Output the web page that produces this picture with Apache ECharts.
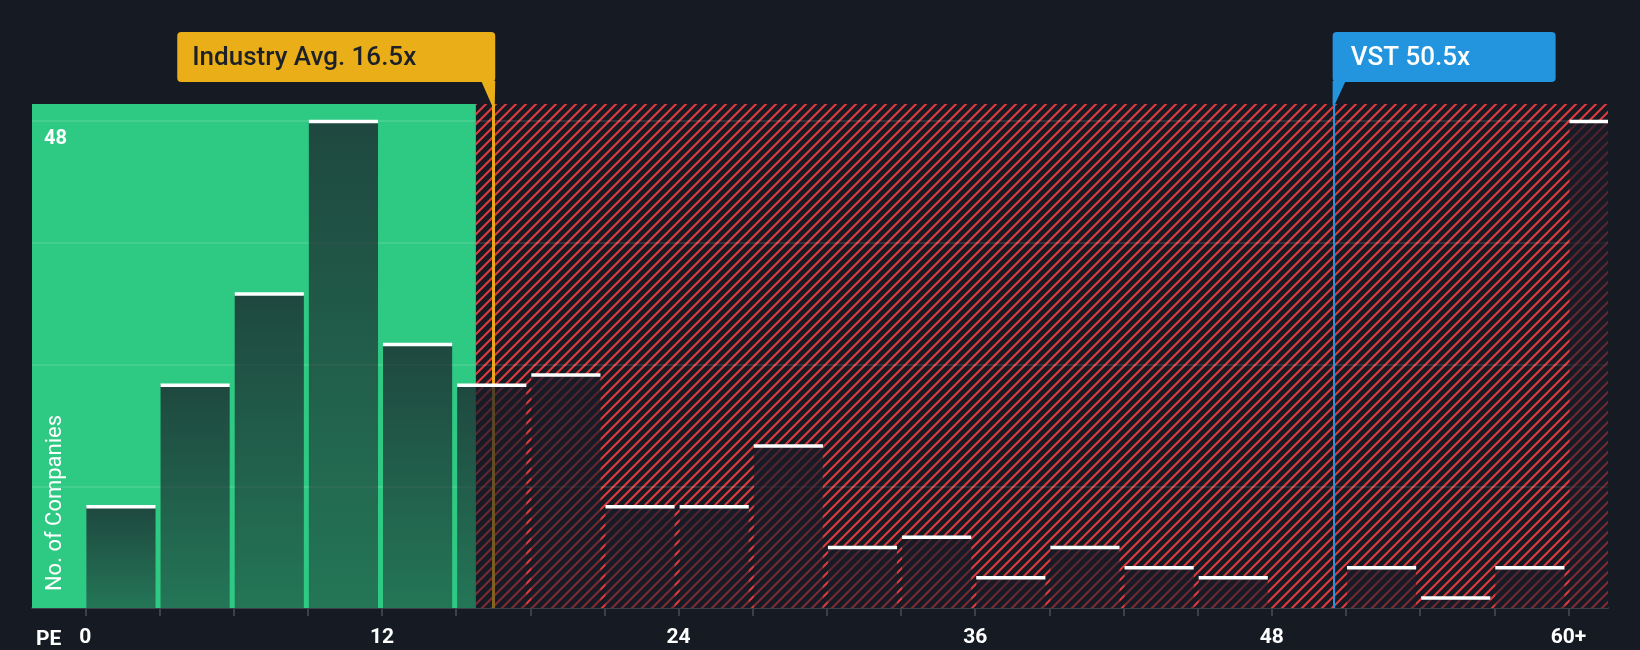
<!DOCTYPE html>
<html>
<head>
<meta charset="utf-8">
<script src="https://cdn.jsdelivr.net/npm/echarts@6/dist/echarts.min.js"></script>
<style>
html,body{margin:0;padding:0;background:#151a23;}
#c{width:1640px;height:650px;}
</style>
</head>
<body>
<div id="c"></div>
<script>
// ---- data ----
const binStarts = [0, 3, 6, 9, 12, 15, 18, 21, 24, 27, 30, 33, 36, 39, 42, 45, 48, 51, 54, 57, 60];
const binEnds   = [3, 6, 9, 12, 15, 18, 21, 24, 27, 30, 33, 36, 39, 42, 45, 48, 51, 54, 57, 60, 63];
const companyCounts = [10, 22, 31, 48, 26, 22, 23, 10, 10, 16, 6, 7, 3, 6, 4, 3, 0, 4, 1, 4, 48];
const xTickValues = [0, 3, 6, 9, 12, 15, 18, 21, 24, 27, 30, 33, 36, 39, 42, 45, 48, 51, 54, 57, 60];
const xLabelValues = [0, 12, 24, 36, 48, 60];
const xLabelTexts = ['0', '12', '24', '36', '48', '60+'];
const yGridValues = [12, 24, 36, 48];
const yLabelValues = [48];
const industryAvgPE = 16.5;
const industryLabel = 'Industry Avg. 16.5x';
const companyPE = 50.5;
const companyLabel = 'VST 50.5x';
const fairZoneEnd = 15.8;
const xMin = -2.16, xMax = 61.6, yMin = 0, yMax = 49.7;

// ---- styles ----
const BG = '#151a23';
const GREEN = '#2ec983';
const RED = '#e03a3e';
const AXIS = '#3c4149';

function hatchCanvas() {
  const s = 10;
  const c = document.createElement('canvas');
  c.width = s; c.height = s;
  const g = c.getContext('2d');
  g.fillStyle = BG; g.fillRect(0, 0, s, s);
  g.strokeStyle = RED; g.lineWidth = 2.1;
  g.beginPath();
  g.moveTo(-s, s); g.lineTo(s, -s);
  g.moveTo(-s, 2 * s); g.lineTo(2 * s, -s);
  g.moveTo(0, 2 * s); g.lineTo(2 * s, 0);
  g.stroke();
  return c;
}

const chart = echarts.init(document.getElementById('c'), null, {renderer: 'canvas'});

const barGradient = new echarts.graphic.LinearGradient(0, 0, 0, 1, [
  {offset: 0, color: 'rgba(25,27,39,0.74)'},
  {offset: 1, color: 'rgba(25,27,39,0.48)'}
]);

const option = {
  backgroundColor: BG,
  animation: false,
  grid: {left: 32, right: 32, top: 104, bottom: 42},
  xAxis: {
    type: 'value', min: xMin, max: xMax,
    splitLine: {show: false},
    axisLine: {show: true, onZero: false, lineStyle: {color: AXIS, width: 2}},
    axisTick: {show: true, customValues: xTickValues, length: 8, lineStyle: {color: AXIS, width: 2}},
    axisLabel: {
      customValues: xLabelValues,
      formatter: v => xLabelTexts[xLabelValues.indexOf(v)],
      color: '#ffffff', fontSize: 21, fontWeight: 'bold', fontFamily: 'Roboto', margin: 19
    }
  },
  yAxis: {
    type: 'value', min: yMin, max: yMax,
    splitLine: {show: false}, axisLine: {show: false}, axisTick: {show: false},
    axisLabel: {show: false}
  },
  series: [{
    type: 'custom',
    z: 3,
    clip: true,
    data: binStarts.map((s, i) => [s, binEnds[i], companyCounts[i]]),
    encode: {x: [0, 1], y: 2},
    renderItem: function (params, api) {
      const v = api.value(2);
      if (!v) return null;
      const a = api.coord([api.value(0), v]);
      const b = api.coord([api.value(1), 0]);
      const x = a[0] + 1, w = b[0] - a[0] - 5;
      const y = a[1], h = b[1] - a[1];
      return {
        type: 'group',
        children: [
          {type: 'rect', shape: {x: x, y: y, width: w, height: h}, style: {fill: barGradient}},
          {type: 'rect', shape: {x: x, y: y - 1.5, width: w, height: 3.5}, style: {fill: '#ffffff'}}
        ]
      };
    },
    markArea: {
      silent: true,
      z: 1,
      data: [
        [{xAxis: xMin, itemStyle: {color: GREEN}}, {xAxis: fairZoneEnd}],
        [{xAxis: fairZoneEnd, itemStyle: {color: {image: hatchCanvas(), repeat: 'repeat'}}}, {xAxis: xMax}]
      ]
    },
    markLine: {
      silent: true,
      z: 2,
      symbol: 'none',
      label: {show: false},
      emphasis: {disabled: true},
      data: yGridValues.map(v => ({yAxis: v, lineStyle: {color: 'rgba(255,255,255,0.11)', width: 2, type: 'solid'}}))
        .concat([
          {xAxis: industryAvgPE, lineStyle: {color: '#eaa71c', width: 3, type: 'solid'}},
          {xAxis: companyPE, lineStyle: {color: '#2394de', width: 2, type: 'solid'}}
        ])
    }
  }]
};

chart.setOption(option);

const avgX = chart.convertToPixel({xAxisIndex: 0}, industryAvgPE);
const vstX = chart.convertToPixel({xAxisIndex: 0}, companyPE);
const plotTop = chart.convertToPixel({yAxisIndex: 0}, yMax);
const plotLeft = chart.convertToPixel({xAxisIndex: 0}, xMin);
const boxTop = 32, boxH = 50, boxBottom = boxTop + boxH;
const avgBoxW = 318, vstBoxW = 223;

const yLabelGraphics = yLabelValues.map(v => ({
  type: 'text', z: 21, x: plotLeft + 12, y: chart.convertToPixel({yAxisIndex: 0}, v) + 18,
  style: {text: String(v), fill: '#ffffff', font: 'bold 20px Roboto', verticalAlign: 'middle', align: 'left'}
}));

chart.setOption({
  graphic: [
    {type: 'rect', z: 20, shape: {x: avgX + 2 - avgBoxW, y: boxTop, width: avgBoxW, height: boxH, r: 4}, style: {fill: '#e9ae18'}},
    {type: 'polygon', z: 20, shape: {points: [[avgX - 12, boxBottom - 1], [avgX + 2, boxBottom - 1], [avgX + 1.5, plotTop + 1], [avgX - 1.5, plotTop + 1]]}, style: {fill: '#e9ae18'}},
    {type: 'text', z: 21, x: avgX + 2 - avgBoxW + 15, y: boxTop + boxH / 2 + 1,
      style: {text: industryLabel, fill: '#1c2028', font: '500 26px Roboto', verticalAlign: 'middle', align: 'left'}},

    {type: 'rect', z: 20, shape: {x: vstX - 1, y: boxTop, width: vstBoxW, height: boxH, r: 4}, style: {fill: '#2394de'}},
    {type: 'polygon', z: 20, shape: {points: [[vstX - 1, boxBottom - 1], [vstX + 12, boxBottom - 1], [vstX + 1, plotTop + 1], [vstX - 1, plotTop + 1]]}, style: {fill: '#2394de'}},
    {type: 'text', z: 21, x: vstX + 17, y: boxTop + boxH / 2 + 1,
      style: {text: companyLabel, fill: '#ffffff', font: '500 26px Roboto', verticalAlign: 'middle', align: 'left'}},

    {type: 'text', z: 21, x: 36, y: 640,
      style: {text: 'PE', fill: '#ffffff', font: 'bold 21px Roboto', verticalAlign: 'middle', align: 'left'}},
    {type: 'text', z: 21, x: 55, y: 503, rotation: Math.PI / 2,
      style: {text: 'No. of Companies', fill: '#ffffff', font: '22px Roboto', verticalAlign: 'middle', align: 'center'}}
  ].concat(yLabelGraphics)
});
</script>
</body>
</html>
